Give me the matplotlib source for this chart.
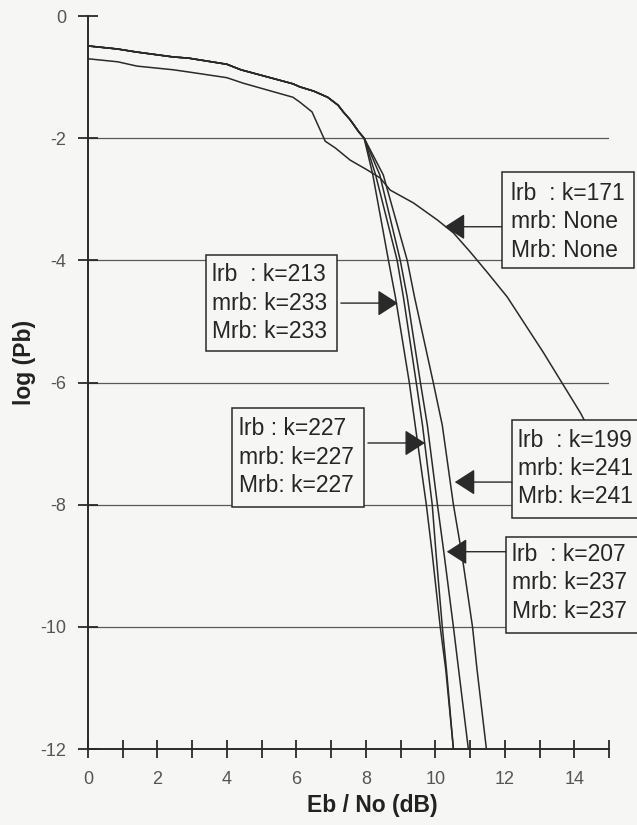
import numpy as np
import matplotlib.pyplot as plt
from matplotlib.patches import Rectangle

plt.rcParams['font.family'] = ['Liberation Sans', 'DejaVu Sans']

# shared low-SNR part of the four steep curves
common_x = [0, 0.85, 1.4, 2.45, 2.9, 4.0, 4.4, 5.9, 6.1, 6.5, 6.9, 7.2, 7.35, 7.55, 7.8, 7.95]
common_y = [-0.49, -0.54, -0.59, -0.67, -0.69, -0.79, -0.88, -1.11, -1.16, -1.23, -1.33,
            -1.46, -1.57, -1.70, -1.90, -2.0]

tail_y = [-2.6, -4.0, -4.6, -6.0, -6.7, -8.0, -8.8, -10.0, -10.7, -12.0]
tail_213 = [8.2, 8.65, 8.85, 9.25, 9.42, 9.74, 9.91, 10.14, 10.3, 10.52]
tail_227 = [8.28, 8.9, 9.08, 9.45, 9.63, 9.91, 10.02, 10.2, 10.32, 10.52]
tail_207 = [8.4, 8.99, 9.19, 9.57, 9.77, 10.06, 10.25, 10.52, 10.67, 10.95]
tail_199 = [8.5, 9.19, 9.4, 9.94, 10.2, 10.52, 10.76, 11.07, 11.2, 11.47]

# k=171 curve
k171_x = [0, 0.86, 1.41, 2.45, 2.94, 4.0, 4.47, 5.9, 6.1, 6.45, 6.83, 7.12, 7.55, 8.04,
          8.41, 8.7, 9.37, 10.06, 10.52, 11.0, 11.5, 12.07, 13.1, 14.18, 15.0]
k171_y = [-0.70, -0.75, -0.82, -0.88, -0.92, -1.01, -1.10, -1.33, -1.41, -1.57, -2.05,
          -2.16, -2.36, -2.52, -2.65, -2.85, -3.06, -3.34, -3.55, -3.86, -4.2, -4.6,
          -5.5, -6.5, -7.4]

box_texts = [
    "lrb  : k=171\nmrb: None\nMrb: None",
    "lrb  : k=213\nmrb: k=233\nMrb: k=233",
    "lrb : k=227\nmrb: k=227\nMrb: k=227",
    "lrb  : k=199\nmrb: k=241\nMrb: k=241",
    "lrb  : k=207\nmrb: k=237\nMrb: k=237",
]
# box: left, bottom, right, top ; text anchor ; arrow start, arrow tip
boxes = [
    ((11.91, -4.12, 15.71, -2.55), (12.18, -3.37), (11.91, -3.45), (10.27, -3.45)),
    ((3.40, -5.48, 7.17, -3.91), (3.56, -4.70), (7.28, -4.70), (8.92, -4.70)),
    ((4.14, -8.04, 7.94, -6.42), (4.35, -7.22), (8.06, -6.99), (9.70, -6.99)),
    ((12.20, -8.22, 16.5, -6.61), (12.38, -7.41), (12.20, -7.63), (10.56, -7.63)),
    ((12.03, -10.10, 16.5, -8.53), (12.21, -9.28), (12.03, -8.77), (10.33, -8.77)),
]

bg = '#f6f6f4'
ink = '#2a2a2a'

fig = plt.figure(figsize=(6.37, 8.25), dpi=100, facecolor=bg)
ax = fig.add_axes([0.1381, 0.0921, 0.818, 0.8885], facecolor=bg)

for gy in [-2, -4, -6, -8, -10]:
    ax.axhline(gy, color='#5a5a5a', lw=0.9, zorder=1)

lw = 1.1
for tail in [tail_213, tail_227, tail_207, tail_199]:
    ax.plot(common_x + tail, common_y + tail_y, color=ink, lw=lw, zorder=2)
ax.plot(k171_x, k171_y, color=ink, lw=lw, zorder=2)

for text, (l, b, r, t), (tx, ty), (sx, sy), (ex, ey) in zip(box_texts, *zip(*boxes)):
    ax.add_patch(Rectangle((l, b), r - l, t - b, facecolor=bg, edgecolor=ink,
                           lw=1.1, zorder=5, clip_on=False))
    ax.text(tx, ty, text, ha='left', va='center', fontsize=16.5, color='#262626',
            linespacing=1.29, zorder=6, clip_on=False)
    ax.annotate('', xy=(ex, ey), xytext=(sx, sy),
                arrowprops=dict(arrowstyle='-|>,head_length=0.7,head_width=0.45',
                                color=ink, lw=1.0, shrinkA=0, shrinkB=0,
                                mutation_scale=18),
                zorder=6, annotation_clip=False)

ax.set_xlim(0, 15)
ax.set_ylim(-12, 0)
ax.spines['top'].set_visible(False)
ax.spines['right'].set_visible(False)
for s in ['left', 'bottom']:
    ax.spines[s].set_color(ink)
    ax.spines[s].set_linewidth(1.4)

ax.set_xticks(np.arange(0, 16, 1))
ax.set_xticklabels([str(v) if v % 2 == 0 and v < 15 else '' for v in range(16)])
ax.set_yticks([0, -2, -4, -6, -8, -10, -12])
ax.set_yticklabels(['0', '-2', '-4', '-6', '-8', '-10', '-12'])
ax.tick_params(axis='x', direction='inout', length=13, width=1.3, color=ink,
               labelsize=13, labelcolor='#555555', pad=9)
ax.tick_params(axis='y', direction='inout', length=15, width=1.3, color=ink,
               labelsize=13, labelcolor='#555555', pad=8)

ax.set_xlabel('Eb / No (dB)', fontsize=16.5, fontweight='bold', color='#222222')
ax.set_ylabel('log (Pb)', fontsize=16.5, fontweight='bold', color='#222222')
ax.xaxis.set_label_coords(0.545, -0.062)
ax.yaxis.set_label_coords(-0.10, 0.527)

fig.savefig('out.png', dpi=100, facecolor=bg)
